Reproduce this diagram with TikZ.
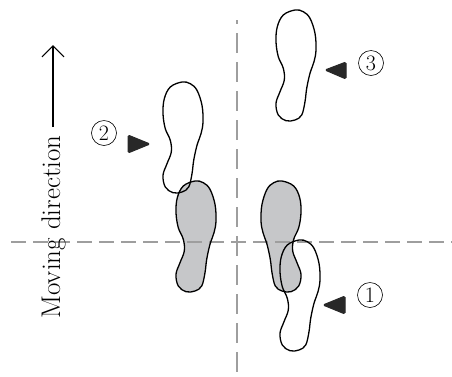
\documentclass[tikz,border=0pt]{standalone}
\usepackage{fontspec}
\setmainfont{Latin Modern Roman}
\usetikzlibrary{arrows.meta}
\definecolor{solegray}{RGB}{198,199,201}
\definecolor{axisgray}{RGB}{158,158,158}
\definecolor{markdark}{RGB}{40,40,40}
\tikzset{
  foot/.pic={
    \path[pic actions] plot[smooth cycle, tension=0.6] coordinates {
      (19,0) (7.3,5) (1.3,16.7) (0,31.7) (2.3,46.7) (7.3,58.3) (8.3,70)
      (4,81.7) (0,93.3) (2.3,105) (10,110.7) (19,110) (25.7,105) (29,91.7)
      (30.7,78.3) (34,63.3) (38,51.7) (40,40) (39,23.3) (34,8.3) (27.3,1.7)};
  },
  soleline/.style={line width=1.3pt, draw=black},
  solefill/.style={fill=solegray},
  axisline/.style={axisgray, line width=1.6pt},
  marker/.style={fill=markdark, draw=markdark, line width=1pt, rounded corners=1.5pt},
  stepnum/.style={circle, draw, line width=0.6pt, minimum size=25pt, inner sep=0pt,
    font=\fontsize{22}{22}\selectfont},
}
\begin{document}
\begin{tikzpicture}[x=1pt, y=-1pt]
\useasboundingbox (0,0) rectangle (452,376);

% shaded soles (current stance)
\pic[solefill] (gl) at (176,181) {foot};
\pic[solefill, xscale=-1] (gr) at (301,181) {foot};

% reference axes
\draw[axisline, dash pattern=on 20pt off 9pt, dash phase=16pt] (237,20) -- (237,376);
\draw[axisline, dash pattern=on 15pt off 7pt] (11,242) -- (452,242);

% outlines of the shaded soles
\pic[soleline] at (176,181) {foot};
\pic[soleline, xscale=-1] at (301,181) {foot};

% successive steps
\pic[soleline] (s1) at (280,240) {foot};
\pic[soleline] (s2) at (163,82) {foot};
\pic[soleline] (s3) at (276,10) {foot};

% step markers
\fill[marker] (323,305) -- (345,296) -- (345,314) -- cycle;
\fill[marker] (150,144) -- (128,135) -- (128,153) -- cycle;
\fill[marker] (325,70) -- (346,62) -- (346,79) -- cycle;

\node[stepnum] (n1) at (370,295) {1};
\node[stepnum] (n2) at (104,133) {2};
\node[stepnum] (n3) at (371,63) {3};

% moving direction
\coordinate (arrS) at (53,127);
\coordinate (arrE) at (53,45);
\draw[line width=1.2pt, -{Straight Barb[length=11pt, width=22pt, line width=1.2pt]}] (arrS) -- (arrE);
\node[rotate=90, anchor=base, font=\fontsize{27}{27}\selectfont] (mv) at (60,227) {Moving direction};
\end{tikzpicture}
\end{document}
